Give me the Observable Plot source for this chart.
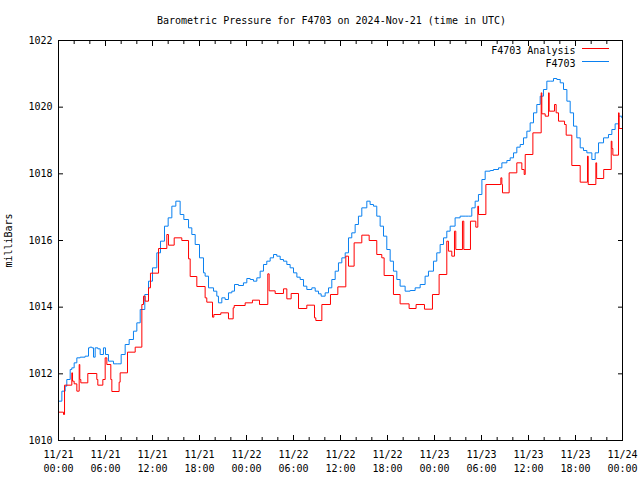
<!DOCTYPE html>
<html><head><meta charset="utf-8">
<script src="https://cdn.jsdelivr.net/npm/d3@7"></script>
<script src="https://cdn.jsdelivr.net/npm/@observablehq/plot@0.6"></script>
<style>body{margin:0;background:#fff}</style>
</head><body><div id="chart"></div>
<script>
const chartTitle = "Barometric Pressure for F4703 on 2024-Nov-21 (time in UTC)";
const yLabel = "milliBars";
const seriesNames = ["F4703 Analysis", "F4703"];
const seriesColors = ["#ff0000", "#0a80f0"];
const startTime = "2024-11-21T00:00:00Z";
const endTime = "2024-11-24T00:00:00Z";
const yTicks = [1010, 1012, 1014, 1016, 1018, 1020, 1022];

// F4703 Analysis (step values), hours since start
const analysisHours = [0.00,0.64,0.77,1.70,1.79,2.00,2.34,2.64,2.72,2.85,3.74,4.89,5.02,5.66,5.96,6.17,6.68,6.81,7.74,7.87,8.81,9.79,10.64,10.85,11.06,11.49,11.74,12.77,13.83,14.04,14.77,15.74,16.60,16.81,17.66,18.72,18.93,19.66,19.83,20.72,21.70,22.30,22.43,23.83,24.76,25.66,26.72,26.89,27.66,28.72,29.15,29.70,30.64,31.70,32.68,32.85,33.62,34.72,35.66,36.68,37.02,37.74,38.72,39.66,40.63,41.27,41.57,42.76,43.61,44.76,45.65,46.72,47.74,48.59,49.57,49.78,50.21,50.55,50.72,51.57,51.74,52.59,53.27,53.53,53.62,54.56,56.47,56.60,56.68,57.53,58.51,59.15,59.45,59.58,60.56,61.62,61.70,62.13,62.56,62.64,63.32,63.53,63.83,64.60,64.81,65.53,66.60,67.53,67.62,68.60,68.70,69.60,70.56,70.65,70.77,71.49,71.57,72.00];
const analysisValues = [1010.85,1010.78,1011.66,1012.03,1011.78,1011.70,1011.48,1012.28,1011.83,1011.73,1012.01,1011.83,1011.66,1011.83,1012.48,1012.28,1011.83,1011.47,1011.75,1012.03,1012.65,1012.80,1014.08,1014.33,1014.18,1014.58,1015.02,1015.76,1016.18,1015.86,1016.08,1016.00,1015.45,1014.92,1014.62,1014.28,1014.15,1013.70,1013.78,1013.83,1013.65,1013.98,1014.05,1014.13,1014.21,1014.08,1015.00,1014.49,1014.41,1014.55,1014.25,1014.41,1013.96,1014.06,1013.68,1013.60,1014.08,1014.38,1014.61,1015.53,1015.23,1015.93,1016.16,1016.00,1015.58,1015.48,1014.95,1014.38,1014.10,1013.96,1014.08,1013.94,1014.38,1014.98,1015.98,1015.68,1015.53,1016.28,1015.73,1016.58,1015.73,1016.58,1016.40,1017.03,1016.78,1017.68,1017.88,1017.68,1017.43,1018.03,1018.33,1018.13,1017.98,1018.58,1019.23,1020.43,1019.80,1019.73,1020.43,1019.88,1020.08,1019.83,1019.58,1019.48,1019.16,1018.25,1017.75,1018.53,1017.68,1018.33,1017.86,1018.13,1018.98,1018.76,1018.56,1019.83,1019.36,1019.36];

// F4703 observations, hours since start
const obsHours = [0.00,0.43,0.85,1.06,1.49,1.70,2.00,2.34,2.77,3.40,3.83,4.00,4.26,4.47,4.68,5.02,5.32,5.74,6.00,6.38,7.02,7.49,8.00,8.51,9.02,9.57,10.00,10.43,11.02,11.49,12.00,12.55,13.02,13.53,14.00,14.47,14.98,15.53,16.00,16.60,17.02,17.45,18.00,18.51,18.72,19.15,19.79,20.21,20.42,20.85,21.27,21.70,22.13,22.47,22.98,23.61,24.04,24.47,24.89,25.32,25.74,26.17,26.59,27.02,27.45,27.87,28.30,28.72,29.15,29.57,30.00,30.43,30.85,31.28,31.70,32.34,32.77,33.19,33.53,34.04,34.47,34.89,35.32,35.74,36.17,36.60,37.02,37.44,37.87,38.29,38.72,39.36,39.78,40.21,40.63,41.06,41.49,41.91,42.34,42.76,43.19,43.61,44.25,44.89,45.53,46.17,46.80,47.23,47.87,48.29,48.72,49.15,49.57,50.00,50.63,51.27,51.91,52.34,52.76,53.19,53.61,54.05,54.47,55.11,55.53,56.17,56.60,57.24,57.66,58.09,58.51,58.94,59.36,59.79,60.21,60.64,61.06,61.49,61.91,62.34,62.77,63.19,63.62,64.05,64.47,64.90,65.32,65.75,66.17,66.60,67.02,67.45,68.09,68.51,68.94,69.58,70.21,70.64,71.06,71.49,71.91,72.00];
const obsValues = [1011.18,1011.48,1011.63,1011.83,1012.13,1012.18,1012.33,1012.48,1012.50,1012.53,1012.78,1012.80,1012.78,1012.50,1012.78,1012.75,1012.58,1012.78,1012.58,1012.38,1012.30,1012.30,1012.58,1012.88,1013.03,1013.28,1013.53,1013.93,1014.38,1014.78,1015.18,1015.63,1015.98,1016.43,1016.68,1017.03,1017.18,1016.78,1016.63,1016.38,1016.18,1015.88,1015.48,1015.03,1014.93,1014.58,1014.48,1014.33,1014.13,1014.28,1014.23,1014.43,1014.48,1014.68,1014.65,1014.73,1014.86,1014.83,1014.78,1014.88,1015.08,1015.28,1015.38,1015.48,1015.58,1015.53,1015.43,1015.38,1015.28,1015.18,1015.03,1014.90,1014.83,1014.63,1014.53,1014.58,1014.48,1014.40,1014.33,1014.43,1014.58,1014.83,1015.08,1015.33,1015.48,1015.63,1016.08,1016.23,1016.48,1016.73,1016.98,1017.18,1017.08,1017.03,1016.73,1016.43,1016.13,1015.73,1015.38,1015.08,1014.83,1014.63,1014.48,1014.50,1014.58,1014.68,1014.93,1015.08,1015.38,1015.63,1015.88,1016.08,1016.28,1016.43,1016.68,1016.73,1016.73,1016.73,1016.98,1017.18,1017.38,1017.83,1018.08,1018.10,1018.13,1018.18,1018.33,1018.40,1018.48,1018.63,1018.80,1018.88,1019.08,1019.28,1019.53,1019.83,1020.08,1020.33,1020.53,1020.78,1020.78,1020.86,1020.83,1020.73,1020.53,1020.18,1019.83,1019.43,1019.08,1018.78,1018.70,1018.63,1018.43,1018.63,1018.93,1019.08,1019.18,1019.33,1019.50,1019.73,1019.68,1019.75];

const t0 = new Date(startTime);
const t1 = new Date(endTime);
const toDate = h => new Date(+t0 + h * 3600e3);
const analysis = analysisHours.map((h, i) => ({t: toDate(h), v: analysisValues[i]}));
const obs = obsHours.map((h, i) => ({t: toDate(h), v: obsValues[i]}));
const majorTicks = d3.utcHour.every(6).range(t0, new Date(+t1 + 1));
const minorTicks = d3.utcHour.every(2).range(t0, new Date(+t1 + 1));
const font = "'DejaVu Sans Mono', monospace";
const blank = () => "";

const legendLines = (index, scales, values, dims) => {
  const g = d3.create("svg:g");
  const x2 = dims.width - dims.marginRight - 13, x1 = x2 - 27;
  [[seriesColors[0], 8], [seriesColors[1], 21]].forEach(([c, dy]) => {
    g.append("line").attr("x1", x1).attr("x2", x2)
      .attr("y1", dims.marginTop + dy + 0.5).attr("y2", dims.marginTop + dy + 0.5)
      .attr("stroke", c).attr("stroke-width", 1);
  });
  return g.node();
};

const plot = Plot.plot({
  width: 640, height: 480,
  marginLeft: 58, marginRight: 18, marginTop: 40, marginBottom: 40,
  style: {fontFamily: font, fontSize: "10px", color: "#000", background: "#fff"},
  x: {type: "utc", domain: [t0, t1]},
  y: {domain: [1010, 1022]},
  marks: [
    Plot.line(obs, {x: "t", y: "v", stroke: seriesColors[1], strokeWidth: 1, curve: "step-after"}),
    Plot.line(analysis, {x: "t", y: "v", stroke: seriesColors[0], strokeWidth: 1, curve: "step-after"}),
    Plot.frame({stroke: "#000"}),
    Plot.axisX({ticks: majorTicks, anchor: "bottom", tickSize: 0, tickPadding: 8, tickFormat: d3.utcFormat("%m/%d\n%H:%M"), lineHeight: 1.4, label: null, fontSize: 10}),
    Plot.axisX({ticks: majorTicks, anchor: "bottom", tickSize: 5, dy: -5, tickFormat: blank, label: null}),
    Plot.axisX({ticks: minorTicks, anchor: "bottom", tickSize: 3, dy: -3, tickFormat: blank, label: null}),
    Plot.axisX({ticks: majorTicks, anchor: "top", tickSize: 5, dy: 5, tickFormat: blank, label: null}),
    Plot.axisX({ticks: minorTicks, anchor: "top", tickSize: 3, dy: 3, tickFormat: blank, label: null}),
    Plot.axisY({ticks: yTicks, anchor: "left", tickSize: 0, tickPadding: 6, tickFormat: d => String(d), label: yLabel, labelAnchor: "center", labelOffset: 54, labelArrow: "none", fontSize: 10}),
    Plot.axisY({ticks: yTicks, anchor: "left", tickSize: 5, dx: 5, tickFormat: blank, label: null}),
    Plot.axisY({ticks: yTicks, anchor: "right", tickSize: 5, dx: -5, tickFormat: blank, label: null}),
    Plot.text([chartTitle], {text: d => d, frameAnchor: "top", dy: -24, dx: -9, fontSize: 10}),
    Plot.text([seriesNames[0]], {text: d => d, frameAnchor: "top-right", textAnchor: "end", dx: -47, dy: 6, fontSize: 10}),
    Plot.text([seriesNames[1]], {text: d => d, frameAnchor: "top-right", textAnchor: "end", dx: -47, dy: 19, fontSize: 10}),
    legendLines
  ]
});
document.getElementById("chart").append(plot);
</script>
</body></html>
